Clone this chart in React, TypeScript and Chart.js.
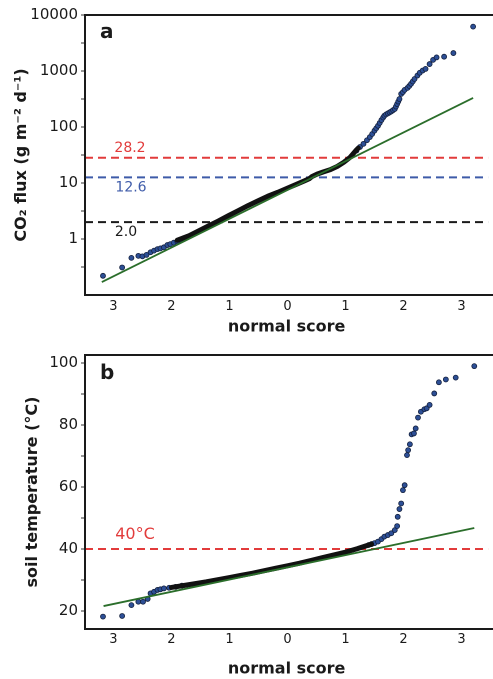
import React, { useEffect, useRef } from 'react';
import { Chart, registerables } from 'chart.js';

Chart.register(...registerables);

// ---------- shared ----------
const scoreTicks = [-3, -2, -1, 0, 1, 2, 3];
const scoreMin = -3.49;
const scoreMax = 3.46;

// ---------- panel a : CO2 flux ----------
const fluxMajorTicks = [1, 10, 100, 1000, 10000];
const fluxMinorTicks = [0.316, 3.16, 31.6, 316, 3162];
const fluxThresholdValues = [28.2, 12.6, 2.0];
const fluxThresholdLabels = ['28.2', '12.6', '2.0'];

const fluxLowScore = [-3.18, -2.85, -2.69, -2.57, -2.5, -2.43, -2.36, -2.3, -2.24, -2.19, -2.13, -2.07, -2.02, -1.96, -1.9, -1.85, -1.79, -1.74];
const fluxLowValue = [0.22, 0.31, 0.46, 0.5, 0.49, 0.52, 0.58, 0.62, 0.66, 0.68, 0.71, 0.78, 0.81, 0.86, 0.91, 0.97, 1.03, 1.08];

const fluxCoreScore = [-1.9, -1.7, -1.53, -1.36, -1.19, -1.02, -0.85, -0.68, -0.51, -0.34, -0.17, 0.0, 0.17, 0.3, 0.38, 0.42, 0.51, 0.62, 0.74, 0.86, 0.97, 1.08, 1.16, 1.22];
const fluxCoreValue = [0.95, 1.14, 1.4, 1.72, 2.1, 2.6, 3.2, 3.95, 4.8, 5.8, 6.8, 8.1, 9.6, 11.0, 12.0, 13.0, 14.4, 15.8, 17.3, 19.8, 23.4, 28.8, 36.0, 42.0];

const fluxHighScore = [1.19, 1.25, 1.31, 1.37, 1.42, 1.46, 1.5, 1.53, 1.56, 1.59, 1.62, 1.65, 1.67, 1.7, 1.73, 1.76, 1.79, 1.82, 1.85, 1.87, 1.89, 1.91, 1.93, 1.96, 1.99, 2.02, 2.07, 2.1, 2.13, 2.16, 2.19, 2.24, 2.28, 2.33, 2.38, 2.45, 2.51, 2.57, 2.7, 2.86, 3.2];
const fluxHighValue = [38, 44, 50, 58, 66, 75, 86, 95, 105, 118, 133, 148, 159, 168, 175, 182, 190, 200, 210, 232, 257, 285, 316, 390, 420, 460, 500, 540, 590, 650, 720, 830, 930, 1020, 1090, 1330, 1580, 1750, 1800, 2090, 6200];

const fluxFitScore = [-3.2, 3.2];
const fluxFitValue = [0.17, 330];

// ---------- panel b : soil temperature ----------
const tempMajorTicks = [20, 40, 60, 80, 100];
const tempMinorTicks = [30, 50, 70, 90];
const tempThresholdValues = [40];
const tempThresholdLabels = ['40°C'];

const tempLowScore = [-3.18, -2.85, -2.69, -2.57, -2.49, -2.41, -2.36, -2.3, -2.24, -2.19, -2.13, -2.04, -1.93, -1.82];
const tempLowValue = [18.2, 18.4, 21.9, 23.0, 23.0, 23.9, 25.7, 26.2, 26.8, 27.0, 27.3, 27.5, 27.8, 28.2];

const tempCoreScore = [-2.0, -1.8, -1.6, -1.4, -1.2, -1.0, -0.8, -0.6, -0.4, -0.2, 0.0, 0.2, 0.4, 0.6, 0.8, 1.0, 1.2, 1.35, 1.45];
const tempCoreValue = [27.6, 28.2, 28.8, 29.4, 30.1, 30.8, 31.5, 32.2, 33.0, 33.8, 34.6, 35.4, 36.3, 37.2, 38.1, 39.0, 40.1, 41.0, 41.6];

const tempHighScore = [1.4, 1.45, 1.5, 1.56, 1.62, 1.67, 1.73, 1.79, 1.85, 1.89, 1.9, 1.93, 1.96, 1.99, 2.02, 2.06, 2.08, 2.11, 2.14, 2.18, 2.21, 2.25, 2.3, 2.36, 2.4, 2.45, 2.53, 2.61, 2.73, 2.9, 3.22];
const tempHighValue = [41.3, 41.6, 41.9, 42.4, 43.2, 44.0, 44.5, 45.1, 46.1, 47.4, 50.4, 52.9, 54.7, 59.0, 60.6, 70.3, 71.9, 73.8, 77.0, 77.3, 78.9, 82.4, 84.3, 85.1, 85.4, 86.5, 90.2, 93.8, 94.7, 95.3, 99.0];

const tempFitScore = [-3.17, 3.22];
const tempFitValue = [21.6, 46.8];

// ---------- styles ----------
const FONT = '"DejaVu Sans", sans-serif';
const INK = '#1a1a1a';
const POINT_FILL = '#2d4f96';
const POINT_EDGE = '#15223f';
const FIT_COLOR = '#2b6e2b';
const thresholdColorsA = ['#e23b3b', '#3e5ba9', '#1a1a1a'];
const thresholdColorsB = ['#e23b3b'];

const pts = (xs: number[], ys: number[]) => xs.map((x, i) => ({ x, y: ys[i] }));

type Spec = {
  yType: 'logarithmic' | 'linear';
  yMin: number;
  yMax: number;
  major: number[];
  minor: number[];
  yTitle: string;
  yTitlePad: number;
  xTickPad: number;
  xTitlePad: number;
  xAxisHeight: number;
  topPad: number;
  letter: string;
  letterDY: number;
  thrValues: number[];
  thrLabels: string[];
  thrColors: string[];
  thrLabelDX: number[];
  thrLabelDY: number[];
  thrFont: number[];
  low: { x: number; y: number }[];
  core: { x: number; y: number }[];
  high: { x: number; y: number }[];
  fit: { x: number; y: number }[];
};

const specA: Spec = {
  yType: 'logarithmic',
  yMin: 0.1,
  yMax: 10000,
  major: fluxMajorTicks,
  minor: fluxMinorTicks,
  yTitle: 'CO₂ flux (g m⁻² d⁻¹)',
  yTitlePad: 12,
  xTickPad: 4,
  xTitlePad: 3,
  xAxisHeight: 45,
  topPad: 15,
  letter: 'a',
  letterDY: 23,
  thrValues: fluxThresholdValues,
  thrLabels: fluxThresholdLabels,
  thrColors: thresholdColorsA,
  thrLabelDX: [45, 46, 41],
  thrLabelDY: [-6, 14, 14],
  thrFont: [14, 14, 14],
  low: pts(fluxLowScore, fluxLowValue),
  core: pts(fluxCoreScore, fluxCoreValue),
  high: pts(fluxHighScore, fluxHighValue),
  fit: pts(fluxFitScore, fluxFitValue),
};

const specB: Spec = {
  yType: 'linear',
  yMin: 14.2,
  yMax: 102.6,
  major: tempMajorTicks,
  minor: tempMinorTicks,
  yTitle: 'soil temperature (°C)',
  yTitlePad: 23,
  xTickPad: 3,
  xTitlePad: 0,
  xAxisHeight: 50,
  topPad: 15,
  letter: 'b',
  letterDY: 24,
  thrValues: tempThresholdValues,
  thrLabels: tempThresholdLabels,
  thrColors: thresholdColorsB,
  thrLabelDX: [50],
  thrLabelDY: [-10],
  thrFont: [16],
  low: pts(tempLowScore, tempLowValue),
  core: pts(tempCoreScore, tempCoreValue),
  high: pts(tempHighScore, tempHighValue),
  fit: pts(tempFitScore, tempFitValue),
};

function buildConfig(spec: Spec): any {
  const thresholdSets = spec.thrValues.map((v, i) => ({
    data: [{ x: scoreMin, y: v }, { x: scoreMax, y: v }],
    showLine: true,
    borderColor: spec.thrColors[i],
    borderWidth: 2,
    borderDash: [8, 5],
    pointRadius: 0,
    order: 4,
  }));
  const pointStyle = {
    showLine: false,
    pointRadius: 2.5,
    pointBackgroundColor: POINT_FILL,
    pointBorderColor: POINT_EDGE,
    pointBorderWidth: 0.8,
    order: 2,
  };
  const allTicks = [...spec.major, ...spec.minor].sort((a, b) => a - b);

  const overlay = {
    id: 'overlay',
    afterDraw(chart: any) {
      const { ctx, chartArea: a, scales } = chart;
      ctx.save();
      // frame: left, top, bottom
      ctx.strokeStyle = INK;
      ctx.lineWidth = 2;
      ctx.beginPath();
      ctx.moveTo(a.right + 5, a.top);
      ctx.lineTo(a.left, a.top);
      ctx.lineTo(a.left, a.bottom);
      ctx.lineTo(a.right + 5, a.bottom);
      ctx.stroke();
      // panel letter
      ctx.fillStyle = INK;
      ctx.font = `bold 20px ${FONT}`;
      ctx.textAlign = 'left';
      ctx.textBaseline = 'alphabetic';
      ctx.fillText(spec.letter, a.left + 15, a.top + spec.letterDY);
      // threshold labels
      ctx.textAlign = 'center';
      spec.thrValues.forEach((v, i) => {
        const y = scales.y.getPixelForValue(v);
        ctx.fillStyle = spec.thrColors[i];
        ctx.font = `${spec.thrFont[i]}px ${FONT}`;
        ctx.fillText(spec.thrLabels[i], a.left + spec.thrLabelDX[i], y + spec.thrLabelDY[i]);
      });
      ctx.restore();
    },
  };

  return {
    type: 'scatter',
    data: {
      datasets: [
        { data: spec.fit, showLine: true, borderColor: FIT_COLOR, borderWidth: 1.8, pointRadius: 0, order: 0 },
        { data: spec.core, showLine: true, borderColor: '#111111', borderWidth: 5, pointRadius: 0, order: 1, borderCapStyle: 'round', borderJoinStyle: 'round' },
        { data: spec.low, ...pointStyle },
        { data: spec.high, ...pointStyle },
        ...thresholdSets,
      ],
    },
    options: {
      animation: false,
      responsive: true,
      maintainAspectRatio: false,
      devicePixelRatio: 2,
      layout: { padding: { top: spec.topPad, right: 0, bottom: 0, left: 0 } },
      plugins: { legend: { display: false }, tooltip: { enabled: false } },
      events: [],
      scales: {
        x: {
          type: 'linear',
          min: scoreMin,
          max: scoreMax,
          afterBuildTicks: (s: any) => {
            s.ticks = scoreTicks.map((v) => ({ value: v }));
          },
          afterFit: (s: any) => {
            s.height = spec.xAxisHeight;
          },
          ticks: {
            callback: (v: number) => String(Math.abs(v)),
            autoSkip: false,
            maxRotation: 0,
            padding: spec.xTickPad,
            color: INK,
            font: { family: FONT, size: 13 },
          },
          grid: { display: false, drawTicks: false },
          border: { display: false },
          title: {
            display: true,
            text: 'normal score',
            color: INK,
            font: { family: FONT, size: 16, weight: 'bold' },
            padding: { top: 0, bottom: spec.xTitlePad },
          },
        },
        y: {
          type: spec.yType,
          min: spec.yMin,
          max: spec.yMax,
          afterBuildTicks: (s: any) => {
            s.ticks = allTicks.map((v) => ({ value: v }));
          },
          afterFit: (s: any) => {
            s.width = 85;
          },
          ticks: {
            callback: (v: number) => (spec.major.includes(v) ? String(v) : ''),
            autoSkip: false,
            padding: 3,
            color: INK,
            font: { family: FONT, size: 15 },
          },
          grid: { drawOnChartArea: false, drawTicks: true, tickLength: 4, color: '#333', lineWidth: 1 },
          border: { display: false },
          title: {
            display: true,
            text: spec.yTitle,
            color: INK,
            font: { family: FONT, size: 16, weight: 'bold' },
            padding: { top: spec.yTitlePad, bottom: 0 },
          },
        },
      },
    },
    plugins: [overlay],
  };
}

function Panel({ spec, height }: { spec: Spec; height: number }) {
  const ref = useRef<HTMLCanvasElement>(null);
  useEffect(() => {
    const chart = new Chart(ref.current as HTMLCanvasElement, buildConfig(spec));
    return () => chart.destroy();
  }, [spec]);
  return (
    <div style={{ position: 'relative', width: 493, height }}>
      <canvas ref={ref} />
    </div>
  );
}

export default function App() {
  return (
    <div style={{ position: 'absolute', left: 0, top: 0, width: 493, height: 679, background: '#fff', overflow: 'hidden' }}>
      <Panel spec={specA} height={340} />
      <Panel spec={specB} height={339} />
    </div>
  );
}
